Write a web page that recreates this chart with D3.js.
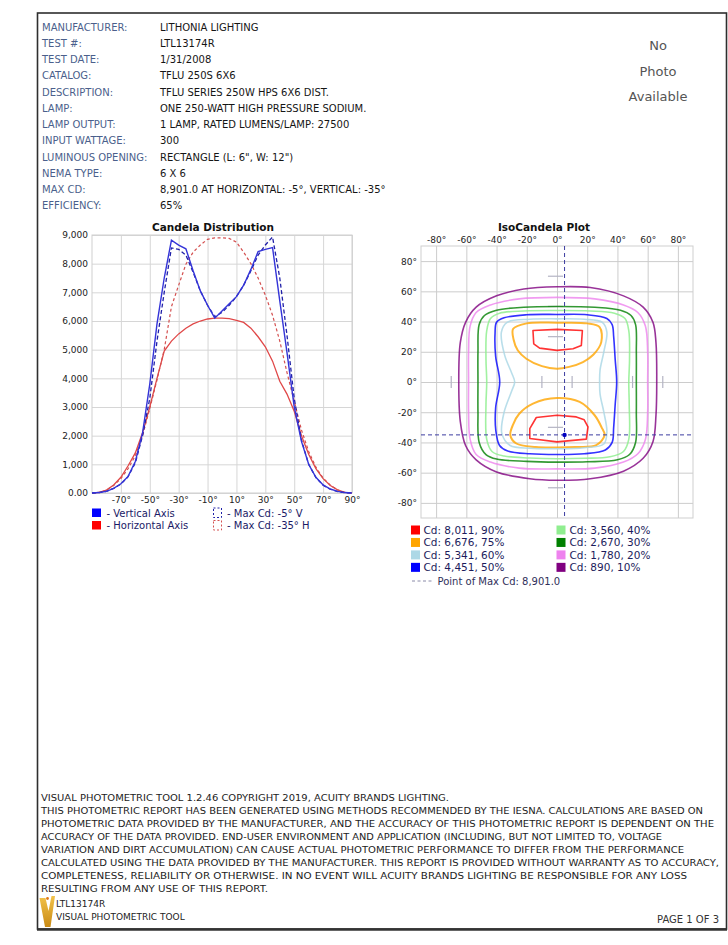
<!DOCTYPE html>
<html>
<head>
<meta charset="utf-8">
<script src="https://cdn.jsdelivr.net/npm/d3@7"></script>
<style>
  body { margin: 0; background: #fff; }
  svg text { font-family: "DejaVu Sans", Verdana, sans-serif; }
</style>
</head>
<body>
<svg id="page" width="728" height="945"></svg>
<script>
// report header
var infoLabels = ["MANUFACTURER:", "TEST #:", "TEST DATE:", "CATALOG:", "DESCRIPTION:", "LAMP:",
  "LAMP OUTPUT:", "INPUT WATTAGE:", "LUMINOUS OPENING:", "NEMA TYPE:", "MAX CD:", "EFFICIENCY:"];
var infoValues = ["LITHONIA LIGHTING", "LTL13174R", "1/31/2008", "TFLU 250S 6X6",
  "TFLU SERIES 250W HPS 6X6 DIST.", "ONE 250-WATT HIGH PRESSURE SODIUM.",
  "1 LAMP, RATED LUMENS/LAMP: 27500", "300", "RECTANGLE (L: 6\", W: 12\")", "6 X 6",
  "8,901.0 AT HORIZONTAL: -5°, VERTICAL: -35°", "65%"];
var photoText = ["No", "Photo", "Available"];

// candela distribution (angle in degrees, candela)
var angles = [-90, -85, -80, -75, -70, -65, -60, -55, -50, -45, -40, -35, -30, -25, -20, -15, -10, -5,
  0, 5, 10, 15, 20, 25, 30, 35, 40, 45, 50, 55, 60, 65, 70, 75, 80, 85, 90];
var vertAxis = [0, 15, 60, 160, 320, 580, 1100, 2100, 3800, 5900, 7500, 8820, 8650, 8520, 7750, 7050, 6550, 6100,
  6350, 6600, 6850, 7250, 7800, 8420, 8500, 8560, 6700, 4900, 3000, 1800, 1000, 550, 280, 140, 55, 15, 0];
var vertMax = [0, 15, 60, 160, 310, 570, 1050, 2000, 3300, 5300, 7000, 8550, 8500, 8300, 7700, 7050, 6550, 6150,
  6300, 6550, 6850, 7250, 7750, 8300, 8650, 8930, 7500, 5500, 3300, 1850, 1000, 540, 270, 130, 50, 12, 0];
var horizAxis = [0, 25, 100, 280, 550, 950, 1400, 2100, 3000, 4000, 4950, 5300, 5550, 5750, 5900, 6000, 6070, 6100,
  6100, 6080, 6020, 5950, 5750, 5450, 5100, 4600, 3900, 3450, 2850, 2000, 1350, 850, 500, 260, 110, 25, 0];
var horizMax = [0, 25, 100, 260, 500, 850, 1300, 2000, 2950, 3950, 5000, 6500, 7250, 7980, 8400, 8650, 8850, 8901,
  8900, 8880, 8750, 8400, 8000, 7500, 6900, 6200, 5300, 4200, 3200, 2200, 1450, 900, 520, 270, 110, 25, 0];
var cdTicks = [0, 1000, 2000, 3000, 4000, 5000, 6000, 7000, 8000, 9000];
var cdAngleTicks = [-70, -50, -30, -10, 10, 30, 50, 70, 90];
var cdLegend = ["- Vertical Axis", "- Horizontal Axis", "- Max Cd: -5° V", "- Max Cd: -35° H"];

// isocandela plot (horizontal deg, vertical deg)
var isoTicks = [-80, -60, -40, -20, 0, 20, 40, 60, 80];
var isoLabels = ["Cd: 8,011, 90%", "Cd: 6,676, 75%", "Cd: 5,341, 60%", "Cd: 4,451, 50%",
  "Cd: 3,560, 40%", "Cd: 2,670, 30%", "Cd: 1,780, 20%", "Cd: 890, 10%"];
var isoColors = ["#ff0000", "#ffa500", "#add8e6", "#0000ff", "#90ee90", "#008000", "#ee82ee", "#800080"];
var contour90 = [
  [[-15.9, 34.1], [0, 34.8], [16.8, 34.1], [16.1, 24.2], [10.6, 22], [0, 20.9], [-11.5, 22.4], [-15.4, 25.3]],
  [[0, -22], [12.8, -23.1], [18, -25], [20.5, -29.7], [19.4, -37.8], [0, -39.6], [-18, -37.4], [-18, -30.8], [-13.7, -23.5]]
];
var contour75 = [
  [[-29, 35.2], [-20, 38.8], [0, 39.2], [20, 38.8], [28.2, 36.3], [29.3, 26.4], [24, 18], [17.2, 13.2], [8, 10],
    [0, 8.8], [-10, 10.5], [-20.3, 15.4], [-26, 21], [-28.7, 28]],
  [[0, -10.6], [15, -13.2], [24.9, -22], [29.5, -30], [31.5, -35.2], [26, -41.8], [12, -43], [0, -43.3], [-14, -43],
    [-26.9, -40.7], [-30.9, -35.2], [-29, -28], [-25, -21], [-15.9, -14.3]]
];
var contour60 = [
  [[0, 41.8], [18, 41.5], [30, 39.5], [33, 33], [31, 20], [28.5, 8], [28.2, 0], [28.5, -8], [31, -20], [33, -33],
    [31, -41], [18, -43.5], [0, -44.2], [-18, -43.8], [-31, -42], [-36.5, -34], [-35, -20], [-30, -6], [-28, 0],
    [-30, 6], [-34.6, 17.6], [-36.8, 33], [-33, 39.5], [-18, 41.5]]
];
var contour50 = [
  [[0, 44.7], [20, 44.5], [33, 42], [36.5, 38], [37.5, 30], [38.5, 15], [39.5, 0], [38.5, -15], [37.5, -30],
    [36.5, -40], [32, -45], [18, -47.5], [0, -48], [-18, -47.5], [-33, -45.5], [-38, -42], [-40.5, -32],
    [-40.6, -17], [-37.9, 0], [-40.6, 17], [-41, 32], [-40, 39.5], [-35, 42.5], [-20, 44.5]]
];
var contour40 = [
  [[0, 47.3], [22, 47], [38, 45.5], [45, 42], [47.5, 34], [48, 15], [47.5, 0], [47.8, -15], [47.5, -38], [44, -46],
    [35, -49.5], [18, -50.5], [0, -50.8], [-18, -50.3], [-35, -49], [-43, -46], [-46.5, -38], [-47, -15],
    [-46.5, 0], [-47, 15], [-46.5, 34], [-44, 42], [-38, 45.5], [-22, 47]]
];
var contour30 = [
  [[0, 50], [25, 49.5], [42, 47.5], [49, 44], [52, 38], [52.5, 20], [52.5, 0], [52.5, -20], [52, -40], [48, -48],
    [40, -51.5], [20, -52.8], [0, -53], [-20, -52.5], [-40, -51], [-47, -48], [-51.5, -40], [-52.3, -20],
    [-52.3, 0], [-52.3, 20], [-51.5, 38], [-48, 44], [-40, 47.5], [-22, 49.5]]
];
var contour20 = [
  [[0, 56], [25, 55], [44, 51], [53.5, 46], [58.5, 37], [60, 20], [60, 0], [60, -20], [58.5, -38], [53.5, -47.5],
    [44, -53], [25, -57], [0, -57.5], [-25, -57], [-44, -53], [-53.5, -48], [-57.5, -38], [-58.5, -20],
    [-58.5, 0], [-58.5, 20], [-57.5, 37], [-53.5, 46], [-44, 51], [-25, 55]]
];
var contour10 = [
  [[0, 63], [22, 62.5], [44, 57], [57, 49.5], [63.5, 39.5], [65.5, 26], [66, 0], [65.5, -22], [63.5, -39.5],
    [57, -50.5], [44, -59], [22, -64], [0, -65], [-18, -64], [-40, -59.5], [-53.5, -51.5], [-60.5, -42],
    [-64, -26], [-65, 0], [-64, 26], [-60.5, 39.5], [-53.5, 49.5], [-40, 57], [-22, 61.5]]
];
var isoContours = [contour90, contour75, contour60, contour50, contour40, contour30, contour20, contour10];
// short grey label marks on the iso plot: [h, v, orientation]
var isoMarks = [[-1, 70, "h"], [-1, 50, "h"], [-1, 30, "h"], [-1, -30, "h"], [-1, -70, "h"],
  [-70, 0, "v"], [-10, 0, "v"], [10, 0, "v"], [50, 0, "v"], [70, 0, "v"]];
var maxPoint = [5, -35];
var maxLabel = "Point of Max Cd: 8,901.0";

// disclaimer
var footerLines = [
  "VISUAL PHOTOMETRIC TOOL 1.2.46 COPYRIGHT 2019, ACUITY BRANDS LIGHTING.",
  "THIS PHOTOMETRIC REPORT HAS BEEN GENERATED USING METHODS RECOMMENDED BY THE IESNA. CALCULATIONS ARE BASED ON",
  "PHOTOMETRIC DATA PROVIDED BY THE MANUFACTURER, AND THE ACCURACY OF THIS PHOTOMETRIC REPORT IS DEPENDENT ON THE",
  "ACCURACY OF THE DATA PROVIDED. END-USER ENVIRONMENT AND APPLICATION (INCLUDING, BUT NOT LIMITED TO, VOLTAGE",
  "VARIATION AND DIRT ACCUMULATION) CAN CAUSE ACTUAL PHOTOMETRIC PERFORMANCE TO DIFFER FROM THE PERFORMANCE",
  "CALCULATED USING THE DATA PROVIDED BY THE MANUFACTURER. THIS REPORT IS PROVIDED WITHOUT WARRANTY AS TO ACCURACY,",
  "COMPLETENESS, RELIABILITY OR OTHERWISE. IN NO EVENT WILL ACUITY BRANDS LIGHTING BE RESPONSIBLE FOR ANY LOSS",
  "RESULTING FROM ANY USE OF THIS REPORT."
];
var footerEnds = [449, 703, 714, 662, 684, 719, 687, 268];
var footerId = ["LTL13174R", "VISUAL PHOTOMETRIC TOOL"];
var pageLabel = "PAGE 1 OF 3";

var svg = d3.select("#page");
svg.append("rect").attr("width", 728).attr("height", 945).attr("fill", "#fff");

// page frame
svg.append("rect")
    .attr("x", 37.5).attr("y", 13)
    .attr("width", 689).attr("height", 916)
    .attr("fill", "none")
    .attr("stroke", "#2e2e2e")
    .attr("stroke-width", 1.6);
svg.append("line")
    .attr("x1", 37).attr("x2", 727).attr("y1", 929.5).attr("y2", 929.5)
    .attr("stroke", "#333").attr("stroke-width", 2.5);

// header block
var header = svg.append("g").attr("font-size", 10);
header.selectAll("text.lbl")
    .data(infoLabels)
  .enter().append("text")
    .attr("class", "lbl")
    .attr("x", 42)
    .attr("y", function(d, i) { return 30.7 + i * 16.25; })
    .attr("fill", "#4b5f8c")
    .text(function(d) { return d; });
header.selectAll("text.val")
    .data(infoValues)
  .enter().append("text")
    .attr("class", "val")
    .attr("x", 160)
    .attr("y", function(d, i) { return 30.7 + i * 16.25; })
    .attr("fill", "#151515")
    .text(function(d) { return d; });

svg.append("g").selectAll("text")
    .data(photoText)
  .enter().append("text")
    .attr("x", 658)
    .attr("y", function(d, i) { return 50 + i * 25.5; })
    .attr("text-anchor", "middle")
    .attr("font-size", 13)
    .attr("fill", "#555")
    .text(function(d) { return d; });

// ---------- candela distribution ----------
var cx = d3.scaleLinear().domain([-90, 90]).range([92, 352]);
var cy = d3.scaleLinear().domain([0, 9000]).range([493, 235]);
var cd = svg.append("g").attr("class", "candela");

cd.append("text")
    .attr("x", 213).attr("y", 231)
    .attr("text-anchor", "middle")
    .attr("font-size", 10.5)
    .attr("font-weight", "bold")
    .attr("fill", "#111")
    .text("Candela Distribution");

var cdAxisY = cd.append("g")
    .attr("transform", "translate(92,0)")
    .call(d3.axisLeft(cy).tickValues(cdTicks).tickSize(-260).tickPadding(4)
      .tickFormat(function(d) { return d === 0 ? "0.00" : d3.format(",")(d); }));
var cdAxisX = cd.append("g")
    .attr("transform", "translate(0,493)")
    .call(d3.axisBottom(cx).tickValues(cdAngleTicks).tickSize(-258).tickPadding(4)
      .tickFormat(function(d) { return d + "°"; }));
[cdAxisY, cdAxisX].forEach(function(ax) {
  ax.select(".domain").remove();
  ax.selectAll("line").attr("stroke", "#d6d6d6");
  ax.selectAll("text").attr("font-size", 9).attr("fill", "#222")
      .attr("font-family", "DejaVu Sans, Verdana, sans-serif");
});
cd.append("rect")
    .attr("x", 92).attr("y", 235).attr("width", 260).attr("height", 258)
    .attr("fill", "none").attr("stroke", "#cfcfcf");

var cdLine = d3.line()
    .x(function(d, i) { return cx(angles[i]); })
    .y(function(d) { return cy(d); });
var cdSeries = [
  { values: horizAxis, color: "#e04848", dash: null, width: 1.3 },
  { values: horizMax, color: "#d45050", dash: "3,2.5", width: 1.2 },
  { values: vertMax, color: "#2020a8", dash: "4,2.5", width: 1.3 },
  { values: vertAxis, color: "#3434d8", dash: null, width: 1.4 }
];
cd.selectAll("path.series")
    .data(cdSeries)
  .enter().append("path")
    .attr("class", "series")
    .attr("d", function(s) { return cdLine(s.values); })
    .attr("fill", "none")
    .attr("stroke", function(s) { return s.color; })
    .attr("stroke-width", function(s) { return s.width; })
    .attr("stroke-dasharray", function(s) { return s.dash; });

// legend
var cdLeg = cd.append("g").attr("font-size", 10).attr("fill", "#1a1a66");
[0, 1].forEach(function(i) {
  var yy = 513 + i * 12.5;
  cdLeg.append("rect")
      .attr("x", 92).attr("y", yy - 4.5).attr("width", 9).attr("height", 8.5)
      .attr("fill", i === 0 ? "#0000ff" : "#ff0000");
  cdLeg.append("text").attr("x", 106.5).attr("y", yy + 3.6).text(cdLegend[i]);
  cdLeg.append("rect")
      .attr("x", 213.5).attr("y", yy - 5).attr("width", 8).attr("height", 9.5)
      .attr("fill", "none")
      .attr("stroke", i === 0 ? "#2020a8" : "#d45050")
      .attr("stroke-dasharray", "2,2");
  cdLeg.append("text").attr("x", 227).attr("y", yy + 3.6).text(cdLegend[i + 2]);
});

// ---------- isocandela plot ----------
var ix = d3.scaleLinear().domain([-90, 90]).range([421, 693]);
var iy = d3.scaleLinear().domain([-90, 90]).range([518, 246]);
var iso = svg.append("g").attr("class", "iso");

iso.append("text")
    .attr("x", 544).attr("y", 231)
    .attr("text-anchor", "middle")
    .attr("font-size", 10.5)
    .attr("font-weight", "bold")
    .attr("fill", "#111")
    .text("IsoCandela Plot");

var isoAxisX = iso.append("g")
    .attr("transform", "translate(0,246)")
    .call(d3.axisTop(ix).tickValues(isoTicks).tickSize(-272).tickPadding(3)
      .tickFormat(function(d) { return d + "°"; }));
var isoAxisY = iso.append("g")
    .attr("transform", "translate(421,0)")
    .call(d3.axisLeft(iy).tickValues(isoTicks).tickSize(-272).tickPadding(4)
      .tickFormat(function(d) { return d + "°"; }));
[isoAxisX, isoAxisY].forEach(function(ax) {
  ax.select(".domain").remove();
  ax.selectAll("line").attr("stroke", "#cccccc");
  ax.selectAll("text").attr("font-size", 9).attr("fill", "#222")
      .attr("font-family", "DejaVu Sans, Verdana, sans-serif");
});
iso.append("rect")
    .attr("x", 421).attr("y", 246).attr("width", 272).attr("height", 272)
    .attr("fill", "none").attr("stroke", "#cfcfcf");

// grey label marks
iso.selectAll("line.mark")
    .data(isoMarks)
  .enter().append("line")
    .attr("class", "mark")
    .attr("x1", function(d) { return d[2] === "h" ? ix(d[0] - 5) : ix(d[0]); })
    .attr("x2", function(d) { return d[2] === "h" ? ix(d[0] + 5) : ix(d[0]); })
    .attr("y1", function(d) { return d[2] === "v" ? iy(d[1] - 4) : iy(d[1]); })
    .attr("y2", function(d) { return d[2] === "v" ? iy(d[1] + 4) : iy(d[1]); })
    .attr("stroke", "#b4b4c4")
    .attr("stroke-width", 1.2);

var smooth = d3.line()
    .x(function(d) { return ix(d[0]); })
    .y(function(d) { return iy(d[1]); })
    .curve(d3.curveCatmullRomClosed.alpha(0.5));
var sharp = d3.line()
    .x(function(d) { return ix(d[0]); })
    .y(function(d) { return iy(d[1]); })
    .curve(d3.curveLinearClosed);

isoContours.forEach(function(rings, k) {
  iso.selectAll(null)
      .data(rings)
    .enter().append("path")
      .attr("d", function(r) { return k === 0 ? sharp(r) : smooth(r); })
      .attr("fill", "none")
      .attr("stroke", isoColors[k])
      .attr("stroke-opacity", k === 2 || k === 4 ? 0.85 : 0.8)
      .attr("stroke-width", k === 1 ? 2 : 1.6)
      .attr("stroke-linejoin", "round");
});

// point of max candela
iso.append("line")
    .attr("x1", ix(maxPoint[0])).attr("x2", ix(maxPoint[0]))
    .attr("y1", 246).attr("y2", 518)
    .attr("stroke", "#3c3ca0").attr("stroke-width", 1).attr("stroke-dasharray", "4,3");
iso.append("line")
    .attr("x1", 421).attr("x2", 693)
    .attr("y1", iy(maxPoint[1])).attr("y2", iy(maxPoint[1]))
    .attr("stroke", "#3c3ca0").attr("stroke-width", 1).attr("stroke-dasharray", "4,3");
iso.append("circle")
    .attr("cx", ix(maxPoint[0])).attr("cy", iy(maxPoint[1]))
    .attr("r", 2.2).attr("fill", "#0000c0");

// iso legend
var isoLeg = iso.append("g").attr("font-size", 10.5).attr("fill", "#1c1c5c");
isoLeg.selectAll("rect")
    .data(isoLabels)
  .enter().append("rect")
    .attr("x", function(d, i) { return i < 4 ? 411 : 556.5; })
    .attr("y", function(d, i) { return 525.5 + (i % 4) * 12.45; })
    .attr("width", 9).attr("height", 9)
    .attr("fill", function(d, i) { return isoColors[i]; });
isoLeg.selectAll("text")
    .data(isoLabels)
  .enter().append("text")
    .attr("x", function(d, i) { return i < 4 ? 423.5 : 569.5; })
    .attr("y", function(d, i) { return 534 + (i % 4) * 12.45; })
    .text(function(d) { return d; });
isoLeg.append("line")
    .attr("x1", 412).attr("x2", 434).attr("y1", 581).attr("y2", 581)
    .attr("stroke", "#8a8aa8").attr("stroke-dasharray", "3,2.5");
isoLeg.append("text")
    .attr("x", 437.5).attr("y", 584.8)
    .attr("font-size", 10)
    .attr("fill", "#30305a")
    .text(maxLabel);

// ---------- footer ----------
var foot = svg.append("g").attr("font-size", 9.5).attr("fill", "#222");
foot.selectAll("text.disc")
    .data(footerLines)
  .enter().append("text")
    .attr("class", "disc")
    .attr("x", 41)
    .attr("y", function(d, i) { return 800.5 + i * 13; })
    .attr("textLength", function(d, i) { return footerEnds[i] - 41; })
    .attr("lengthAdjust", "spacingAndGlyphs")
    .text(function(d) { return d; });

var grad = svg.append("defs").append("linearGradient")
    .attr("id", "gold").attr("x1", 0).attr("y1", 0).attr("x2", 0).attr("y2", 1);
grad.append("stop").attr("offset", "0%").attr("stop-color", "#f2c24a");
grad.append("stop").attr("offset", "100%").attr("stop-color", "#c98a14");
foot.append("path")
    .attr("d", "M39.5,898 L45.5,898 L48.5,911 L51.5,896 L55,896 L50.5,927 L45,927 Z")
    .attr("fill", "url(#gold)");
foot.append("circle").attr("cx", 47.5).attr("cy", 898.5).attr("r", 1.4).attr("fill", "#e07818");

foot.selectAll("text.id")
    .data(footerId)
  .enter().append("text")
    .attr("class", "id")
    .attr("x", 56)
    .attr("y", function(d, i) { return 906.5 + i * 13.5; })
    .attr("font-size", 9)
    .text(function(d) { return d; });
foot.append("text")
    .attr("x", 719).attr("y", 923)
    .attr("text-anchor", "end")
    .attr("font-size", 10)
    .attr("fill", "#333")
    .text(pageLabel);
</script>
</body>
</html>
